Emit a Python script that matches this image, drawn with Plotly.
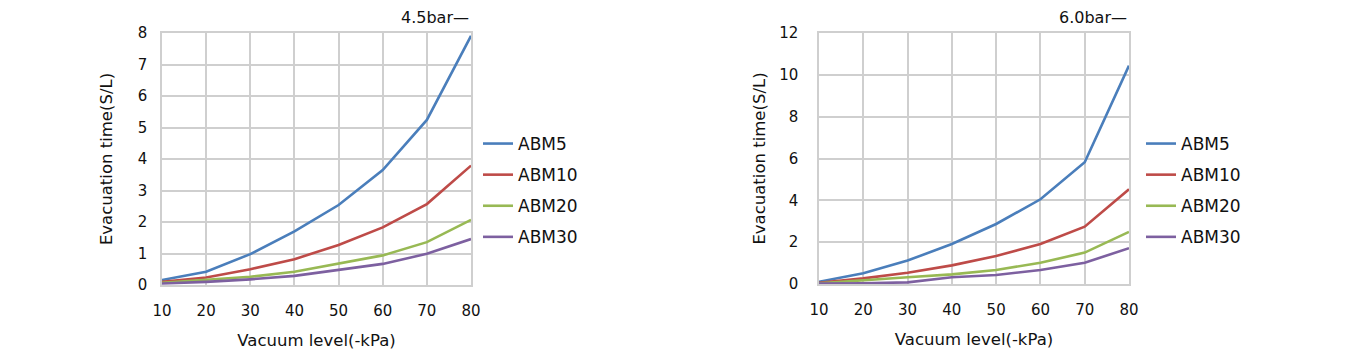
import plotly.graph_objects as go

vacuum = [10, 20, 30, 40, 50, 60, 70, 80]
x_ticks = [10, 20, 30, 40, 50, 60, 70, 80]
series_names = ["ABM5", "ABM10", "ABM20", "ABM30"]
colors = ["#4A7EBB", "#BE4B48", "#98B954", "#7D60A0"]

# 4.5 bar
abm5_45 = [0.16, 0.42, 0.98, 1.70, 2.54, 3.65, 5.24, 7.91]
abm10_45 = [0.10, 0.24, 0.50, 0.82, 1.27, 1.83, 2.57, 3.79]
abm20_45 = [0.07, 0.16, 0.26, 0.42, 0.67, 0.94, 1.36, 2.07]
abm30_45 = [0.05, 0.10, 0.18, 0.29, 0.48, 0.67, 0.99, 1.46]

# 6.0 bar
abm5_60 = [0.11, 0.51, 1.12, 1.91, 2.87, 4.05, 5.82, 10.44]
abm10_60 = [0.06, 0.27, 0.54, 0.89, 1.34, 1.91, 2.74, 4.53]
abm20_60 = [0.03, 0.19, 0.32, 0.46, 0.67, 1.02, 1.50, 2.49]
abm30_60 = [0.02, 0.03, 0.08, 0.32, 0.43, 0.67, 1.02, 1.71]

left_title = "4.5bar—"
right_title = "6.0bar—"
x_title = "Vacuum level(-kPa)"
y_title = "Evacuation time(S/L)"

W, H = 1353, 356
OFF = 8  # default page body margin
FONT = "DejaVu Sans"
TXT = "#111111"
GRID = "#CFCFCF"

fig = go.Figure()

left_data = [abm5_45, abm10_45, abm20_45, abm30_45]
right_data = [abm5_60, abm10_60, abm20_60, abm30_60]

for i, (name, ys) in enumerate(zip(series_names, left_data)):
    fig.add_trace(go.Scatter(x=vacuum, y=ys, name=name, mode="lines",
                             line=dict(color=colors[i], width=2.6),
                             xaxis="x", yaxis="y", legend="legend",
                             legendgroup="L" + name))
for i, (name, ys) in enumerate(zip(series_names, right_data)):
    fig.add_trace(go.Scatter(x=vacuum, y=ys, name=name, mode="lines",
                             line=dict(color=colors[i], width=2.6),
                             xaxis="x2", yaxis="y2", legend="legend2",
                             legendgroup="R" + name))

def px_x(p):
    return (p - OFF) / W

def px_y(p):
    return (H - (p - OFF)) / H

axis_common = dict(showgrid=True, gridcolor=GRID, gridwidth=1.5,
                   showline=True, linecolor=GRID, linewidth=1.5, mirror=True,
                   zeroline=False, ticks="", automargin=False,
                   tickfont=dict(family=FONT, size=15, color=TXT),
                   title_font=dict(family=FONT, size=16.5, color=TXT))

fig.update_layout(
    width=W, height=H,
    margin=dict(l=0, r=0, t=0, b=0),
    paper_bgcolor="white", plot_bgcolor="white",
    font=dict(family=FONT, size=15, color=TXT),
    xaxis=dict(domain=[px_x(162), px_x(471)], range=[10, 80], tickvals=x_ticks,
               anchor="y", ticklabelstandoff=11,
               title=dict(text=x_title, standoff=16), **axis_common),
    yaxis=dict(domain=[px_y(285), px_y(33)], range=[0, 8], dtick=1,
               anchor="x", ticklabelstandoff=10,
               title=dict(text=y_title, standoff=21), **axis_common),
    xaxis2=dict(domain=[px_x(819), px_x(1129)], range=[10, 80], tickvals=x_ticks,
                anchor="y2", ticklabelstandoff=11,
                title=dict(text=x_title, standoff=16), **axis_common),
    yaxis2=dict(domain=[px_y(284), px_y(33)], range=[0, 12], dtick=2,
                anchor="x2", ticklabelstandoff=16,
                title=dict(text=y_title, standoff=9), **axis_common),
    legend=dict(x=px_x(478), y=px_y(126), xanchor="left", yanchor="top",
                tracegroupgap=6, font=dict(family=FONT, size=17, color=TXT),
                bgcolor="rgba(0,0,0,0)"),
    legend2=dict(x=px_x(1141), y=px_y(126), xanchor="left", yanchor="top",
                 tracegroupgap=6, font=dict(family=FONT, size=17, color=TXT),
                 bgcolor="rgba(0,0,0,0)"),
    annotations=[
        dict(text=left_title, x=px_x(471), y=px_y(18), xref="paper", yref="paper",
             xanchor="right", yanchor="middle", showarrow=False,
             font=dict(family=FONT, size=16, color=TXT)),
        dict(text=right_title, x=px_x(1129), y=px_y(18), xref="paper", yref="paper",
             xanchor="right", yanchor="middle", showarrow=False,
             font=dict(family=FONT, size=16, color=TXT)),
    ],
)

fig.write_html("out.html")
